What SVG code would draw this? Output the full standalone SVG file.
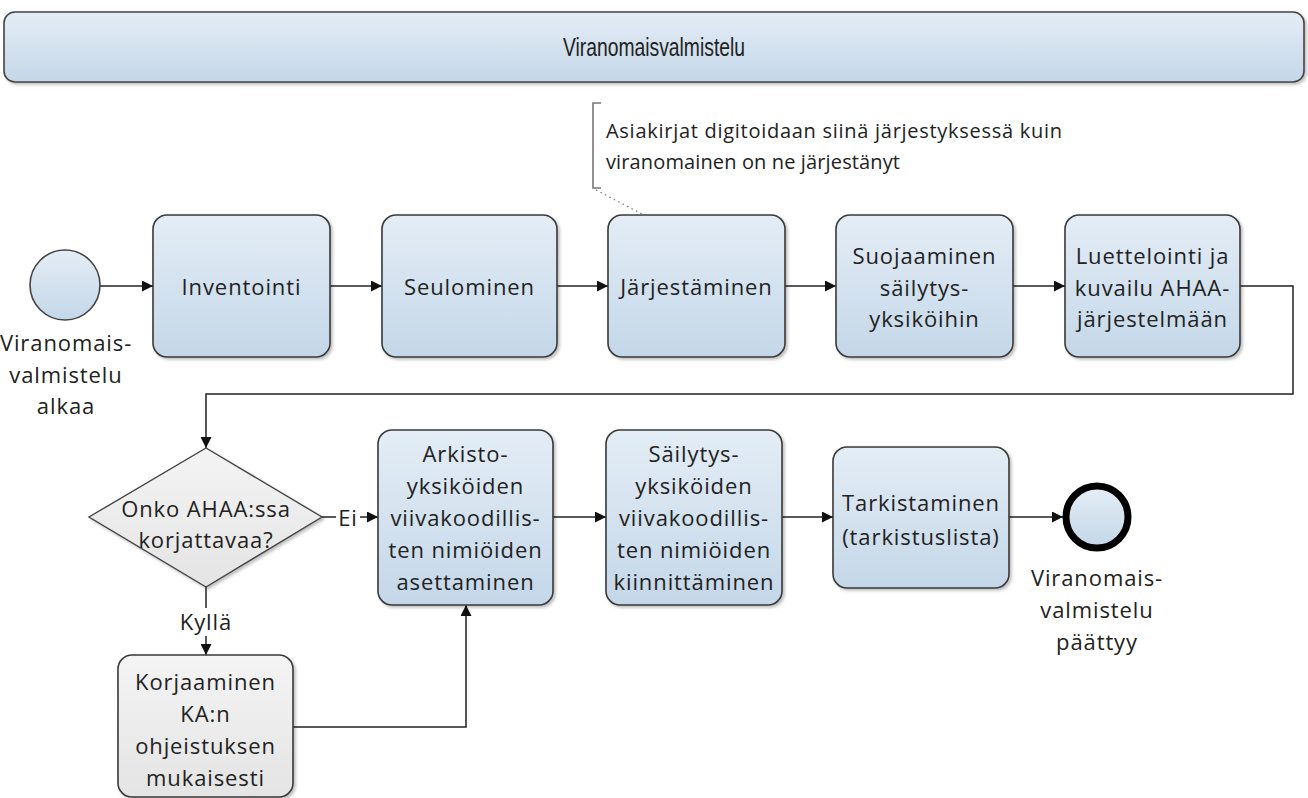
<svg xmlns="http://www.w3.org/2000/svg" width="1308" height="798" viewBox="0 0 1308 798">
<defs>
<linearGradient id="gb" x1="0" y1="0" x2="0" y2="1"><stop offset="0" stop-color="#e4edf6"/><stop offset="1" stop-color="#c4d7e8"/></linearGradient>
<linearGradient id="gg" x1="0" y1="0" x2="0" y2="1"><stop offset="0" stop-color="#f4f4f4"/><stop offset="1" stop-color="#e4e4e4"/></linearGradient>
<filter id="sh" x="-10%" y="-10%" width="130%" height="130%"><feDropShadow dx="2" dy="2" stdDeviation="1.5" flood-color="#000" flood-opacity="0.25"/></filter>
<marker id="ar" viewBox="0 0 10 10" refX="10" refY="5" markerWidth="11" markerHeight="11" markerUnits="userSpaceOnUse" orient="auto"><path d="M0,0 L10,5 L0,10 z" fill="#111"/></marker>
</defs>
<style>
.box{fill:url(#gb);stroke:#3a3a3a;stroke-width:1.6;filter:url(#sh)}
.gbox{fill:url(#gg);stroke:#3a3a3a;stroke-width:1.6;filter:url(#sh)}
.t{font-family:"Open Sans","Noto Sans",sans-serif;font-size:22px;fill:#222;text-anchor:middle;dominant-baseline:central;letter-spacing:0.9px}
.c{fill:none;stroke:#222;stroke-width:1.5}
.a{marker-end:url(#ar)}
</style>
<rect width="1308" height="798" fill="#fff"/>
<g id="header">
<rect x="4" y="12" width="1300" height="70" rx="11" fill="url(#gb)" stroke="#444" stroke-width="1.6" filter="url(#sh)"/>
<text x="654" y="47" font-family="'Liberation Sans',sans-serif" font-size="26" fill="#222" text-anchor="middle" dominant-baseline="central" textLength="182" lengthAdjust="spacingAndGlyphs">Viranomaisvalmistelu</text>
</g>
<g id="connectors">
<path class="c a" d="M100,286 H153"/>
<path class="c a" d="M330,286 H382"/>
<path class="c a" d="M557,286 H608"/>
<path class="c a" d="M785,286 H836"/>
<path class="c a" d="M1013,286 H1065"/>
<path class="c a" d="M1240,286 H1293 V394 H206 V448"/>
<path class="c a" d="M322,517 H378"/>
<path class="c a" d="M206,587 V655"/>
<path class="c a" d="M293,727 H466 V605"/>
<path class="c a" d="M553,517 H606"/>
<path class="c a" d="M782,517 H833"/>
<path class="c a" d="M1009,517 H1063"/>
<path d="M596,190 L642,214" fill="none" stroke="#777" stroke-width="1.2" stroke-dasharray="1.5,3.5"/>
<rect x="336" y="506" width="24" height="22" fill="#fff"/>
<text class="t" x="348" y="517" letter-spacing="0">Ei</text>
<rect x="178" y="608" width="56" height="28" fill="#fff"/>
<text class="t" x="206" y="621" letter-spacing="0.5">Kyllä</text>
</g>
<g id="annotation">
<path d="M601,103 H593 V188 H601" fill="none" stroke="#777" stroke-width="1.6"/>
<text x="606" y="130" font-family="'Open Sans','Noto Sans',sans-serif" font-size="20" fill="#222" dominant-baseline="central" textLength="456" lengthAdjust="spacing">Asiakirjat digitoidaan siinä järjestyksessä kuin</text>
<text x="606" y="161" font-family="'Open Sans','Noto Sans',sans-serif" font-size="20" fill="#222" dominant-baseline="central" textLength="294" lengthAdjust="spacing">viranomainen on ne järjestänyt</text>
</g>
<g id="start">
<circle cx="65" cy="285" r="35" fill="url(#gb)" stroke="#444" stroke-width="1.6"/>
<text class="t" x="66" y="342">Viranomais-</text>
<text class="t" x="66" y="374">valmistelu</text>
<text class="t" x="66" y="405">alkaa</text>
</g>
<g id="inventointi">
<rect class="box" x="153" y="215" width="177" height="142" rx="14"/>
<text class="t" x="241.5" y="286">Inventointi</text>
</g>
<g id="seulominen">
<rect class="box" x="382" y="215" width="175" height="142" rx="14"/>
<text class="t" x="469.5" y="286">Seulominen</text>
</g>
<g id="jarjestaminen">
<rect class="box" x="608" y="215" width="177" height="142" rx="14"/>
<text class="t" x="696.5" y="286">Järjestäminen</text>
</g>
<g id="suojaaminen">
<rect class="box" x="836" y="215" width="177" height="142" rx="14"/>
<text class="t" x="924.5" y="255">Suojaaminen</text>
<text class="t" x="924.5" y="287">säilytys-</text>
<text class="t" x="924.5" y="318">yksiköihin</text>
</g>
<g id="luettelointi">
<rect class="box" x="1065" y="215" width="175" height="142" rx="14"/>
<text class="t" x="1152.5" y="255">Luettelointi ja</text>
<text class="t" x="1152.5" y="287">kuvailu AHAA-</text>
<text class="t" x="1152.5" y="318">järjestelmään</text>
</g>
<g id="decision">
<path d="M206,448 L322,517 L206,587 L89,517 Z" fill="url(#gg)" stroke="#444" stroke-width="1.4" filter="url(#sh)"/>
<text class="t" x="206" y="508">Onko AHAA:ssa</text>
<text class="t" x="206" y="539">korjattavaa?</text>
</g>
<g id="korjaaminen">
<rect class="gbox" x="118" y="655" width="175" height="142" rx="14"/>
<text class="t" x="205.5" y="681">Korjaaminen</text>
<text class="t" x="205.5" y="713">KA:n</text>
<text class="t" x="205.5" y="745">ohjeistuksen</text>
<text class="t" x="205.5" y="777">mukaisesti</text>
</g>
<g id="arkisto">
<rect class="box" x="378" y="430" width="175" height="175" rx="14"/>
<text class="t" x="465.5" y="453">Arkisto-</text>
<text class="t" x="465.5" y="485">yksiköiden</text>
<text class="t" x="465.5" y="517">viivakoodillis-</text>
<text class="t" x="465.5" y="549">ten nimiöiden</text>
<text class="t" x="465.5" y="581">asettaminen</text>
</g>
<g id="sailytys">
<rect class="box" x="606" y="430" width="176" height="175" rx="14"/>
<text class="t" x="694" y="453">Säilytys-</text>
<text class="t" x="694" y="485">yksiköiden</text>
<text class="t" x="694" y="517">viivakoodillis-</text>
<text class="t" x="694" y="549">ten nimiöiden</text>
<text class="t" x="694" y="581">kiinnittäminen</text>
</g>
<g id="tarkistaminen">
<rect class="box" x="833" y="447" width="176" height="141" rx="14"/>
<text class="t" x="921" y="502">Tarkistaminen</text>
<text class="t" x="921" y="536">(tarkistuslista)</text>
</g>
<g id="end">
<circle cx="1097" cy="517" r="31" fill="url(#gb)" stroke="#000" stroke-width="7"/>
<text class="t" x="1097" y="577">Viranomais-</text>
<text class="t" x="1097" y="609">valmistelu</text>
<text class="t" x="1097" y="641">päättyy</text>
</g>
</svg>
